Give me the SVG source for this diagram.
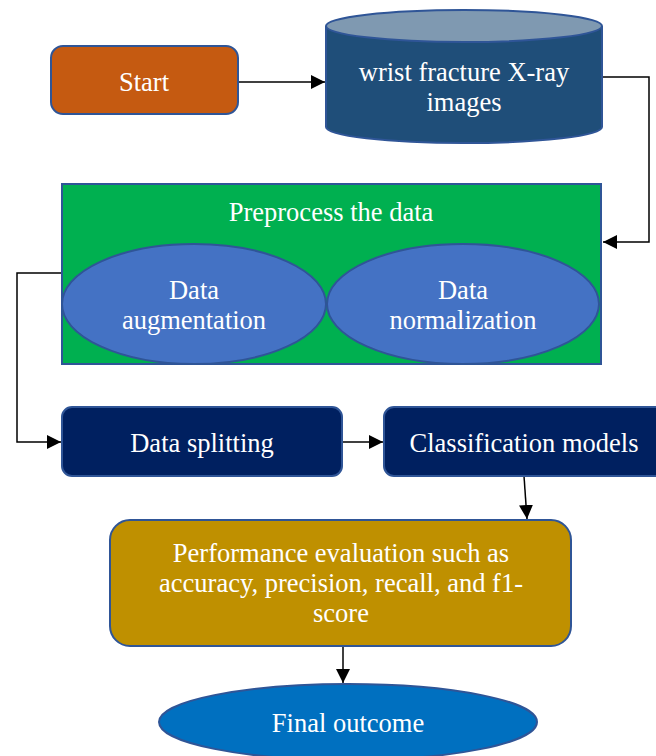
<svg xmlns="http://www.w3.org/2000/svg" width="656" height="756" viewBox="0 0 656 756">
<defs>
<marker id="arr" viewBox="0 0 10 10" refX="10" refY="5" markerWidth="14" markerHeight="14" markerUnits="userSpaceOnUse" orient="auto">
<path d="M0,0 L10,5 L0,10 z" fill="#000"/>
</marker>
</defs>
<style>
.b{stroke:#2F5597;stroke-width:2}
.c{fill:none;stroke:#000;stroke-width:1.5}
</style>
<rect width="656" height="756" fill="#fff"/>
<g id="connectors">
<path class="c" d="M238,82 H325" marker-end="url(#arr)"/>
<path class="c" d="M602,77 H649 V242 H603" marker-end="url(#arr)"/>
<path class="c" d="M64,273 H17 V442 H61" marker-end="url(#arr)"/>
<path class="c" d="M342,442 H383" marker-end="url(#arr)"/>
<path class="c" d="M524,476 L527,519" marker-end="url(#arr)"/>
<path class="c" d="M343,646 V683" marker-end="url(#arr)"/>
</g>
<g font-family="'Liberation Serif', 'Times New Roman', serif" font-size="26.5" fill="#fff" text-anchor="middle">
<g id="start">
<rect class="b" x="51" y="46" width="187" height="68" rx="12" fill="#C55A11"/>
<text x="144" y="91">Start</text>
</g>
<g id="images">
<path class="b" d="M326,26 V127 A138,16 0 0 0 602,127 V26" fill="#1F4E79"/>
<ellipse class="b" cx="464" cy="26" rx="138" ry="16" fill="#7F99B1"/>
<text x="464" y="81">wrist fracture X-ray</text>
<text x="464" y="111">images</text>
</g>
<g id="preprocess">
<rect class="b" x="62" y="184" width="539" height="180" fill="#00B050"/>
<text x="331" y="221">Preprocess the data</text>
</g>
<g id="augmentation">
<ellipse class="b" cx="194" cy="304" rx="132" ry="60" fill="#4472C4"/>
<text x="194" y="299">Data</text>
<text x="194" y="329">augmentation</text>
</g>
<g id="normalization">
<ellipse class="b" cx="463" cy="304" rx="136" ry="60" fill="#4472C4"/>
<text x="463" y="299">Data</text>
<text x="463" y="329">normalization</text>
</g>
<g id="splitting">
<rect class="b" x="62" y="407" width="280" height="69" rx="10" fill="#002060"/>
<text x="202" y="452">Data splitting</text>
</g>
<g id="classification">
<rect class="b" x="384" y="407" width="284" height="69" rx="10" fill="#002060"/>
<text x="524" y="452">Classification models</text>
</g>
<g id="evaluation">
<rect class="b" x="110" y="520" width="461" height="126" rx="20" fill="#BF9000"/>
<text x="341" y="562">Performance evaluation such as</text>
<text x="341" y="592">accuracy, precision, recall, and f1-</text>
<text x="341" y="622">score</text>
</g>
<g id="outcome">
<ellipse class="b" cx="348" cy="722" rx="189" ry="38" fill="#0070C0"/>
<text x="348" y="732">Final outcome</text>
</g>
</g>
</svg>
